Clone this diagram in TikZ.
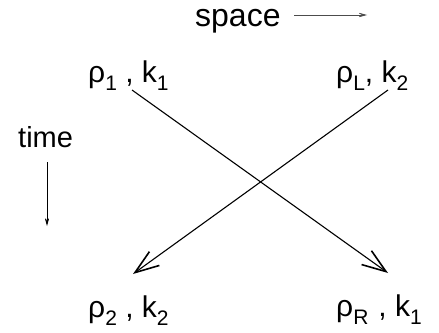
\documentclass[tikz,border=0pt]{standalone}
\usepackage{fontspec}
\setmainfont{Liberation Sans}
\usetikzlibrary{arrows.meta}
\newcommand\lsub[1]{\raisebox{-8pt}{\fontsize{21pt}{21pt}\selectfont #1}}
\tikzset{
  lbl/.style={inner sep=0pt, anchor=base west, font=\fontsize{30pt}{30pt}\selectfont},
  flow/.style={line width=1.1pt, -{Straight Barb[length=24pt,width=17pt,line width=1.6pt]}},
  axis/.style={line width=0.8pt, -{Stealth[length=11pt,width=6pt,inset=6pt]}}
}
\begin{document}
\begin{tikzpicture}[x=1pt,y=1pt]
\useasboundingbox (0,0) rectangle (439,-332);
\node[lbl, font=\fontsize{32pt}{32pt}\selectfont] (space) at (195,-27) {space};
\coordinate (sa) at (294,-15);
\coordinate (sb) at (367,-15);
\draw[axis, line width=0.7pt, gray!60!black] (sa) -- (sb);
\node[lbl, font=\fontsize{29pt}{29pt}\selectfont] (time) at (18,-147) {time};
\coordinate (ta) at (47,-162);
\coordinate (tb) at (47,-226);
\draw[axis] (ta) -- (tb);
\node[lbl] (tl) at (88,-82) {ρ\lsub{1} , k\lsub{1}};
\node[lbl] (tr) at (336,-82) {ρ\lsub{L}, k\lsub{2}};
\node[lbl] (bl) at (88,-317) {ρ\lsub{2} , k\lsub{2}};
\node[lbl] (br) at (336,-316) {ρ\lsub{R}\,\,, k\lsub{1}};
\coordinate (a1) at (132,-90);
\coordinate (a2) at (388,-273);
\coordinate (b1) at (388,-90);
\coordinate (b2) at (133,-274);
\draw[flow] (a1) -- (a2);
\draw[flow] (b1) -- (b2);
\end{tikzpicture}
\end{document}
